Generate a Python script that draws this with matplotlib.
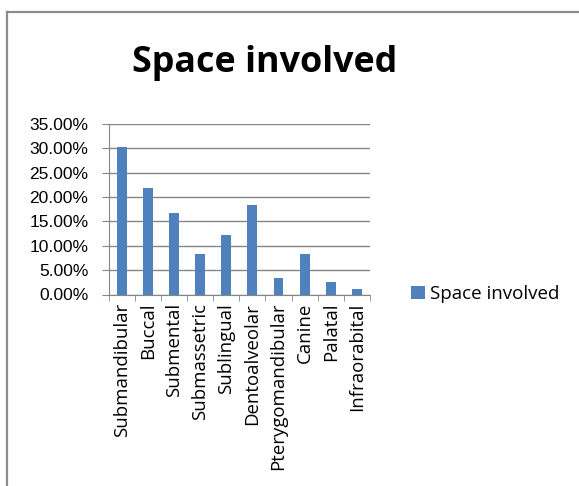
import matplotlib.pyplot as plt
from matplotlib.lines import Line2D
from matplotlib.ticker import FuncFormatter, FixedLocator
import numpy as np

categories = ['Submandibular', 'Buccal', 'Submental', 'Submassetric', 'Sublingual',
              'Dentoalveolar', 'Pterygomandibular', 'Canine', 'Palatal', 'Infraorabital']
share = [30.3, 21.8, 16.8, 8.4, 12.2, 18.3, 3.4, 8.4, 2.5, 1.1]
series_name = 'Space involved'

bar_color = '#4f81bd'
grid_color = '#868686'

fig = plt.figure(figsize=(5.79, 4.86), dpi=100)

# grey chart frame (left and top edges only)
fig.add_artist(Line2D([7 / 579, 7 / 579], [0, 1 - 12 / 486], color='#8c8c8c', lw=1.6,
                      transform=fig.transFigure))
fig.add_artist(Line2D([7 / 579, 1], [1 - 12 / 486, 1 - 12 / 486], color='#8c8c8c', lw=1.6,
                      transform=fig.transFigure))

ax = fig.add_axes([108.5 / 579, 1 - 294.5 / 486, (370 - 108.5) / 579, (294.5 - 124) / 486])

x = np.arange(len(categories))
ax.bar(x, share, width=0.38, color=bar_color, zorder=3, label=series_name)

ax.set_xlim(-0.5, len(categories) - 0.5)
ax.set_ylim(0, 35)
ax.set_yticks(np.arange(0, 36, 5))
ax.yaxis.set_major_formatter(FuncFormatter(lambda v, p: f'{v:.2f}%'))
ax.yaxis.grid(True, color=grid_color, lw=1.0, zorder=0)

ax.set_xticks(x)
ax.set_xticklabels(categories, rotation=90, fontsize=13.4, family='Open Sans')
ax.xaxis.set_minor_locator(FixedLocator(np.arange(-0.5, len(categories), 1)))
ax.tick_params(axis='x', which='major', length=0, pad=6)
ax.tick_params(axis='x', which='minor', length=4, color=grid_color)
ax.tick_params(axis='y', length=5, color=grid_color, labelsize=12.5, pad=9.5)
for lab in ax.get_yticklabels():
    lab.set_family('Liberation Sans')

for side in ['top', 'right']:
    ax.spines[side].set_visible(False)
for side in ['left', 'bottom']:
    ax.spines[side].set_color(grid_color)

fig.text(265 / 579, 1 - 63 / 486, 'Space involved', ha='center', va='center',
         fontsize=25.8, fontweight='bold', family='Open Sans')

fig.legend(loc='center left', bbox_to_anchor=(394 / 579, 1 - 294 / 486), frameon=False,
           handlelength=0.75, handleheight=0.75, handletextpad=0.25,
           prop={'family': 'Open Sans', 'size': 13.5})

fig.savefig('out.png', dpi=100)
